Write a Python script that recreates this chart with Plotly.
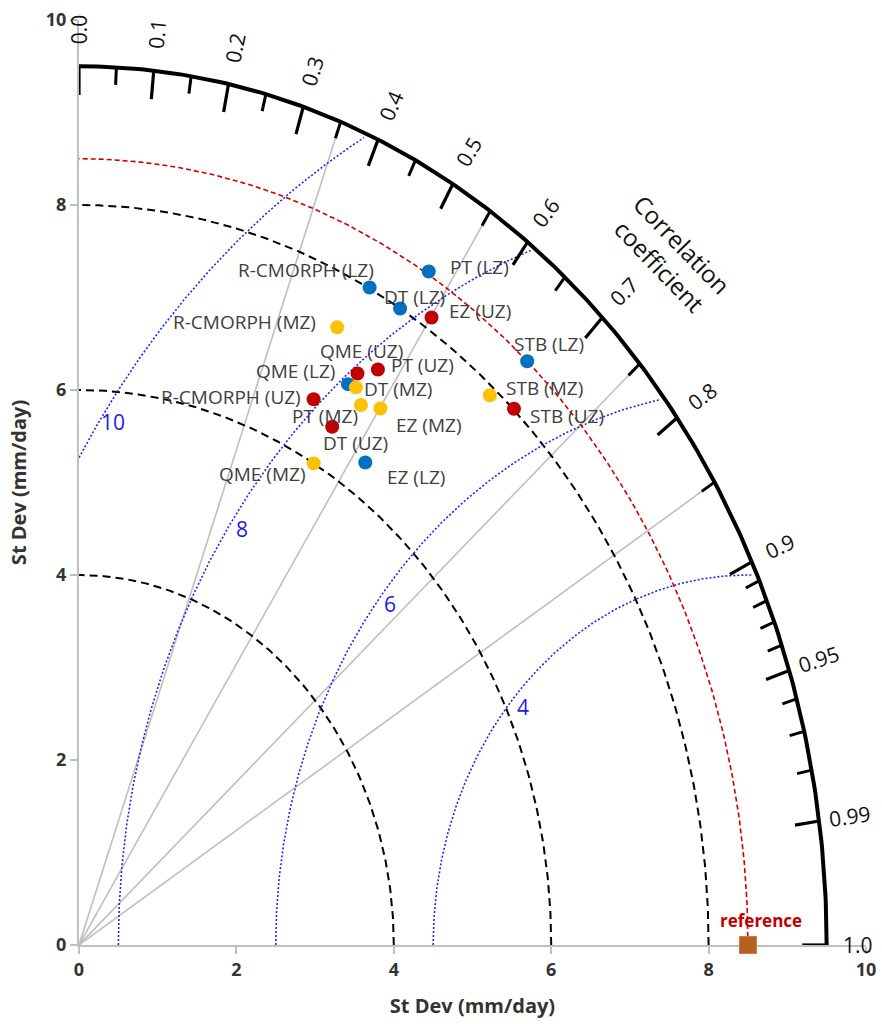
import numpy as np
import plotly.graph_objects as go

# ---------------- data ----------------
lz_names = ["PT (LZ)", "R-CMORPH (LZ)", "DT (LZ)", "STB (LZ)", "QME (LZ)", "EZ (LZ)"]
lz_std = [8.53, 8.01, 8.00, 8.50, 6.96, 6.36]
lz_corr = [0.521, 0.461, 0.510, 0.670, 0.491, 0.572]

uz_names = ["EZ (UZ)", "QME (UZ)", "PT (UZ)", "R-CMORPH (UZ)", "DT (UZ)", "STB (UZ)"]
uz_std = [8.13, 7.12, 7.29, 6.61, 6.46, 8.01]
uz_corr = [0.551, 0.497, 0.521, 0.451, 0.498, 0.690]

mz_names = ["R-CMORPH (MZ)", "DT (MZ)", "PT (MZ)", "EZ (MZ)", "STB (MZ)", "QME (MZ)"]
mz_std = [7.44, 6.98, 6.85, 6.95, 7.91, 6.00]
mz_corr = [0.441, 0.504, 0.523, 0.551, 0.660, 0.497]

ref_std = 8.5
outer_std = 9.5
std_contours = [4, 6, 8]
rmse_contours = [4, 6, 8, 10]
rmse_labels = ["4", "6", "8", "10"]
corr_major = [0.0, 0.1, 0.2, 0.3, 0.4, 0.5, 0.6, 0.7, 0.8, 0.9, 0.95, 0.99, 1.0]
corr_major_labels = ["0.0", "0.1", "0.2", "0.3", "0.4", "0.5", "0.6", "0.7",
                     "0.8", "0.9", "0.95", "0.99", "1.0"]
corr_minor = [0.05, 0.15, 0.25, 0.35, 0.45, 0.55, 0.65, 0.75, 0.85,
              0.91, 0.92, 0.93, 0.94, 0.96, 0.97, 0.98]
corr_lines = [0.35, 0.55, 0.75, 0.85]
axis_ticks = [0, 2, 4, 6, 8, 10]

# ---------------- styles ----------------
FONT = "Open Sans, Noto Sans, sans-serif"
series_colors = {"LZ": "#0070C0", "UZ": "#C00000", "MZ": "#FFC000"}
label_offsets = {  # pixel offsets (dx right, dy down) of label centres from points
    "PT (LZ)": (51, -5), "R-CMORPH (LZ)": (-64, -18), "DT (LZ)": (14, -11),
    "STB (LZ)": (22, -17), "QME (LZ)": (-52, -13), "EZ (LZ)": (51, 15),
    "EZ (UZ)": (48, -6), "QME (UZ)": (4, -23), "PT (UZ)": (45, -4),
    "R-CMORPH (UZ)": (-83, -2), "DT (UZ)": (23, 16), "STB (UZ)": (53, 7),
    "R-CMORPH (MZ)": (-93, -5), "DT (MZ)": (42, 2), "PT (MZ)": (-36, 11),
    "EZ (MZ)": (49, 16), "STB (MZ)": (55, -7), "QME (MZ)": (-51, 11),
}
rmse_label_angles = [138, 141, 145, 145]

fig = go.Figure()


def polar_xy(s, c):
    s = np.asarray(s, dtype=float)
    c = np.asarray(c, dtype=float)
    return s * c, s * np.sqrt(1 - c ** 2)


def seg_trace(xs, ys, color, width, dash="solid"):
    fig.add_trace(go.Scatter(x=xs, y=ys, mode="lines", hoverinfo="skip",
                             line=dict(color=color, width=width, dash=dash)))


# radial correlation lines
xs, ys = [], []
for c in corr_lines:
    x1, y1 = polar_xy(outer_std, c)
    xs += [0, float(x1), None]
    ys += [0, float(y1), None]
seg_trace(xs, ys, "#BFBFBF", 1.6)

# std dev contours (black dashed)
th = np.linspace(0, np.pi / 2, 200)
for r in std_contours:
    seg_trace(r * np.cos(th), r * np.sin(th), "black", 2, "8px,5px")

# RMSE contours (blue dotted), centred on reference
R_end = 9.45
ann = []
for r, lab, ang in zip(rmse_contours, rmse_labels, rmse_label_angles):
    phi_start = np.arccos(-ref_std / r) if r > ref_std else np.pi
    phi_end = np.arccos((R_end ** 2 - ref_std ** 2 - r ** 2) / (2 * ref_std * r))
    ph = np.linspace(phi_start, phi_end, 200)
    seg_trace(ref_std + r * np.cos(ph), r * np.sin(ph), "#2323F5", 1.6, "2px,2px")
    a = np.deg2rad(ang)
    ann.append(dict(x=ref_std + (r - 0.15) * np.cos(a), y=(r - 0.15) * np.sin(a),
                    text=lab, showarrow=False, xanchor="center", yanchor="middle",
                    font=dict(family=FONT, size=21, color="#1A1AF0")))

# reference std contour (red dashed)
seg_trace(ref_std * np.cos(th), ref_std * np.sin(th), "#D00000", 1.6, "5px,3px")

# outer arc
seg_trace(outer_std * np.cos(th), outer_std * np.sin(th), "black", 4)


# ticks
def ticks(vals, length, width):
    xs, ys = [], []
    for c in vals:
        x1, y1 = polar_xy(outer_std, c)
        x0, y0 = polar_xy(outer_std - length, c)
        xs += [float(x0), float(x1), None]
        ys += [float(y0), float(y1), None]
    seg_trace(xs, ys, "black", width)


ticks(corr_major, 0.31, 3.2)
ticks(corr_minor, 0.19, 3)

# correlation tick labels
for c, lab in zip(corr_major, corr_major_labels):
    x, y = polar_xy(9.9, c)
    ang = np.degrees(np.arccos(c))
    ann.append(dict(x=float(x), y=float(y), text=lab, showarrow=False,
                    textangle=-ang, xanchor="center", yanchor="middle",
                    font=dict(family=FONT, size=21, color="#111111")))

ann.append(dict(x=7.52, y=7.46, text="Correlation<br>coefficient", showarrow=False,
                textangle=46, xanchor="center", yanchor="middle",
                font=dict(family=FONT, size=24, color="#111111")))

# data points
for key, names, stds, cors in [("LZ", lz_names, lz_std, lz_corr),
                               ("UZ", uz_names, uz_std, uz_corr),
                               ("MZ", mz_names, mz_std, mz_corr)]:
    x, y = polar_xy(stds, cors)
    fig.add_trace(go.Scatter(x=x, y=y, mode="markers", hoverinfo="skip",
                             cliponaxis=False,
                             marker=dict(color=series_colors[key], size=14,
                                         line=dict(width=0))))
    for n, xi, yi in zip(names, x, y):
        dx, dy = label_offsets[n]
        ann.append(dict(x=float(xi), y=float(yi), text=n, showarrow=False,
                        xshift=dx, yshift=-dy, xanchor="center", yanchor="middle",
                        font=dict(family=FONT, size=19, color="#404040")))

# reference point
fig.add_trace(go.Scatter(x=[ref_std], y=[0], mode="markers", hoverinfo="skip",
                         cliponaxis=False,
                         marker=dict(symbol="square", color="#B5601F", size=17,
                                     line=dict(color="#D2783A", width=1))))
ann.append(dict(x=ref_std, y=0, text="reference", showarrow=False, xshift=13, yshift=25,
                xanchor="center", yanchor="middle",
                font=dict(family=FONT, size=17, color="#C00000", weight="bold")))

axis_common = dict(range=[0, 10], tickvals=axis_ticks, showgrid=False, zeroline=False,
                   showline=True, linecolor="#BFBFBF", linewidth=2, layer="below traces",
                   ticks="outside", ticklen=7, tickcolor="#BFBFBF", tickwidth=1.5,
                   tickfont=dict(family=FONT, size=18, color="#333333", weight="bold"),
                   automargin=False, ticklabeloverflow="allow",
                   fixedrange=True)

fig.update_layout(
    width=882, height=1024,
    margin=dict(l=79, r=16, t=20, b=79),
    paper_bgcolor="white", plot_bgcolor="white",
    showlegend=False,
    annotations=ann,
    xaxis=dict(**axis_common,
               title=dict(text="St Dev (mm/day)", standoff=19,
                          font=dict(family=FONT, size=20, color="#333333", weight="bold"))),
    yaxis=dict(**axis_common,
               title=dict(text="St Dev (mm/day)", standoff=14,
                          font=dict(family=FONT, size=20, color="#333333", weight="bold"))),
)

fig.write_html(
    "out.html",
    config={"displayModeBar": False},
    post_script=("document.body.style.margin='0';"
                 "document.body.style.overflow='hidden';"
                 "document.documentElement.style.overflow='hidden';"),
)
